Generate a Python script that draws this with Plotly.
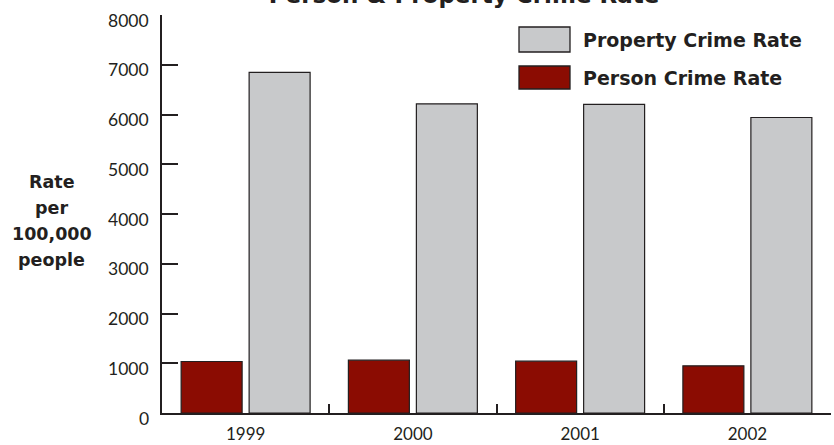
import plotly.graph_objects as go

# Annual crime rates per 100,000 people
years = ["1999", "2000", "2001", "2002"]
person_rate = [1035, 1062, 1042, 948]
property_rate = [6845, 6215, 6205, 5940]

y_ticks = [0, 1000, 2000, 3000, 4000, 5000, 6000, 7000, 8000]
y_title_lines = ["Rate", "per", "100,000", "people"]

RED = "#8b0c02"
GRAY = "#c8c9cb"
INK = "#231f20"
BOLD_FONT = "DejaVu Sans"
TICK_FONT = "Lato"

W, H = 834, 445
M_L, M_R, M_T, M_B = 162, 3, 15, 32
plot_w = W - M_L - M_R
plot_h = H - M_T - M_B


def px_x(px):
    return (px - M_L) / plot_w


def px_y(py):
    return (H - M_B - py) / plot_h


fig = go.Figure()
fig.add_trace(go.Bar(
    x=years, y=person_rate, name="Person Crime Rate",
    marker=dict(color=RED, line=dict(color=INK, width=1.2)),
))
fig.add_trace(go.Bar(
    x=years, y=property_rate, name="Property Crime Rate",
    marker=dict(color=GRAY, line=dict(color=INK, width=1.2)),
))

# legend drawn as swatches plus bold labels
legend_items = [("Property Crime Rate", GRAY, 27, 52), ("Person Crime Rate", RED, 66, 89)]
shapes = []
annotations = []
for label, color, top, bottom in legend_items:
    shapes.append(dict(
        type="rect", xref="paper", yref="paper",
        x0=px_x(519), x1=px_x(570), y0=px_y(bottom), y1=px_y(top),
        fillcolor=color, line=dict(color=INK, width=1.3),
    ))
    annotations.append(dict(
        text=label, xref="paper", yref="paper",
        x=px_x(581), y=px_y((top + bottom) / 2),
        xanchor="left", yanchor="middle", showarrow=False,
        font=dict(family=BOLD_FONT, size=19, color=INK, weight="bold"),
    ))

# y tick labels sit slightly below their tick marks
for v in y_ticks:
    annotations.append(dict(
        text=str(v), xref="paper", yref="y",
        x=px_x(151), y=v, yshift=-5,
        xanchor="right", yanchor="middle", showarrow=False,
        font=dict(family=TICK_FONT, size=17.5, color=INK),
    ))

# stacked y-axis title, one line per annotation for wider leading
for i, line in enumerate(y_title_lines):
    annotations.append(dict(
        text=line, xref="paper", yref="paper",
        x=px_x(52), y=px_y(182 + 26 * i), xanchor="center", yanchor="middle",
        showarrow=False,
        font=dict(family=BOLD_FONT, size=17.5, color=INK, weight="bold"),
    ))

fig.update_layout(
    width=W, height=H,
    margin=dict(l=M_L, r=M_R, t=M_T, b=M_B, pad=0, autoexpand=False),
    paper_bgcolor="white", plot_bgcolor="white",
    barmode="group", bargap=0.187, bargroupgap=0.103,
    showlegend=False,
    title=dict(
        text="Person & Property Crime Rate",
        x=464 / W, xanchor="center",
        y=1 - 3 / H, yanchor="bottom", yref="container",
        font=dict(family=BOLD_FONT, size=23, color=INK, weight="bold"),
    ),
    shapes=shapes,
    annotations=annotations,
)

fig.update_xaxes(
    type="category", automargin=False,
    showline=True, linewidth=2, linecolor=INK,
    ticks="inside", ticklen=9, tickwidth=2, tickcolor=INK,
    tickson="boundaries", showgrid=False, zeroline=False,
    ticklabelstandoff=5,
    tickfont=dict(family=TICK_FONT, size=17, color=INK),
)
fig.update_yaxes(
    range=[0, 8000], tickvals=y_ticks, showticklabels=False, automargin=False,
    showline=True, linewidth=2, linecolor=INK,
    ticks="inside", ticklen=16, tickwidth=2, tickcolor=INK,
    showgrid=False, zeroline=False,
)

fig.write_html("out.html")
